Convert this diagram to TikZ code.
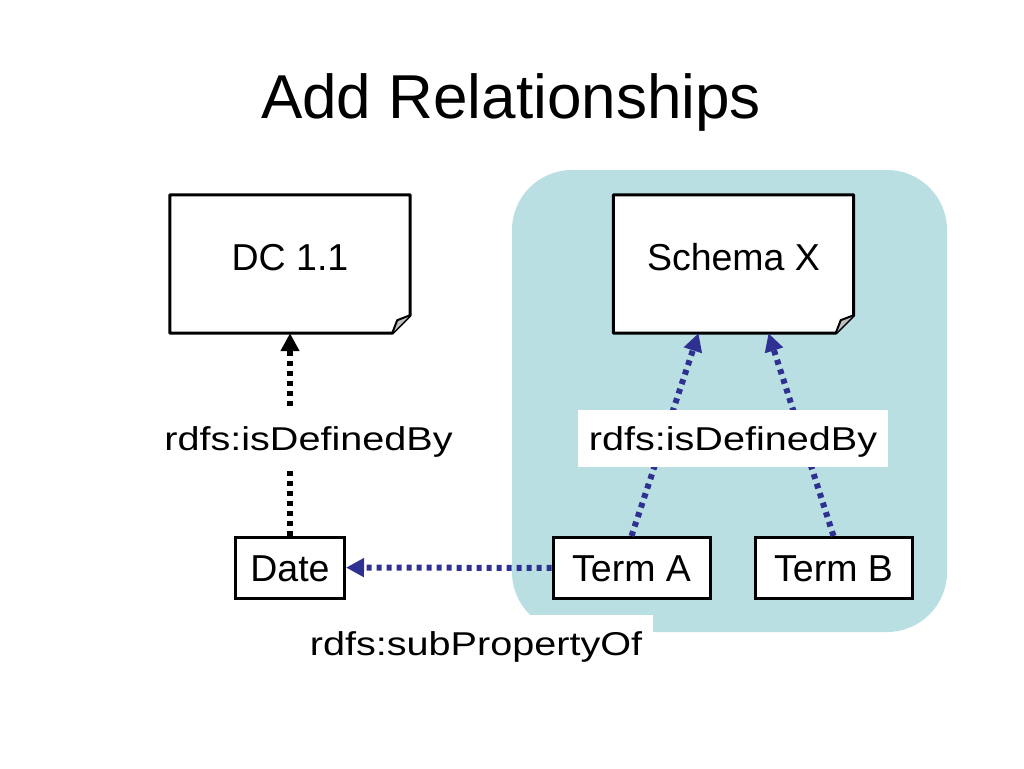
\documentclass[tikz,border=0pt]{standalone}
\usepackage{fontspec}
\setmainfont{Liberation Sans}
\newfontfamily\relfont[FakeStretch=1.2]{Liberation Sans}
\usetikzlibrary{arrows.meta}
\usetikzlibrary{backgrounds}
\definecolor{schemabg}{RGB}{186,223,227}
\definecolor{relblue}{RGB}{46,49,146}
\tikzset{
	page/.style={minimum width=240pt,minimum height=138pt,inner sep=0pt,text height=27pt,text depth=14pt,font=\fontsize{37.5}{40}\selectfont},
	term/.style={draw,line width=3pt,fill=white,minimum height=61pt,inner sep=0pt,text height=27pt,text depth=0pt,font=\fontsize{37.5}{40}\selectfont},
	relation/.style={fill=white,minimum height=57pt,inner xsep=11pt,inner ysep=0pt,text height=23.6pt,text depth=0pt,font=\relfont\fontsize{33}{36}\selectfont},
	defined/.style={line width=6pt,dash pattern=on 5pt off 5pt,-{Triangle[length=18pt,width=18pt]}},
}
\newcommand{\foldedpage}[1]{%
	\draw[line width=3pt,fill=white,line join=round] (#1.north west) -- (#1.north east) -- ([yshift=18pt]#1.south east) -- ([xshift=-18pt]#1.south east) -- (#1.south west) -- cycle;
	\draw[line width=2pt,fill=black!25,line join=round] ([xshift=-18pt]#1.south east) -- ([xshift=-13pt,yshift=13pt]#1.south east) -- ([yshift=18pt]#1.south east);
}

\begin{document}
\begin{tikzpicture}[x=1pt,y=-1pt]
		\useasboundingbox (0,0) rectangle (1024,768);
		\node[font=\fontsize{62}{70}\selectfont,text height=45pt,text depth=0pt] (title) at (511,95.5) {Add Relationships};
		\node[page] (dc) at (290,264) {DC 1.1};
		\node[page] (schema) at (733.5,264) {Schema X};
		\node[term,minimum width=109pt] (date) at (290,567.5) {Date};
		\node[term,minimum width=157pt] (terma) at (631.5,568) {Term A};
		\node[term,minimum width=157pt] (termb) at (833.5,568) {Term B};
		\begin{scope}[on background layer]
			\fill[schemabg,rounded corners=60pt] (512,170) rectangle (947,632);
			\foldedpage{dc}
			\foldedpage{schema}
		\end{scope}
		\draw[defined] (date) -- (dc);
		\draw[defined,relblue] (terma.north) -- ([xshift=-35pt]schema.south);
		\draw[defined,relblue] (termb.north) -- ([xshift=35pt]schema.south);
		\draw[defined,relblue] (terma) -- (date);
		\node[relation] (defleft) at (308.5,438.5) {rdfs:isDefinedBy};
		\node[relation] (defright) at (733,438.5) {rdfs:isDefinedBy};
		\node[relation] (subprop) at (476,643.5) {rdfs:subPropertyOf};
	\end{tikzpicture}
\end{document}
